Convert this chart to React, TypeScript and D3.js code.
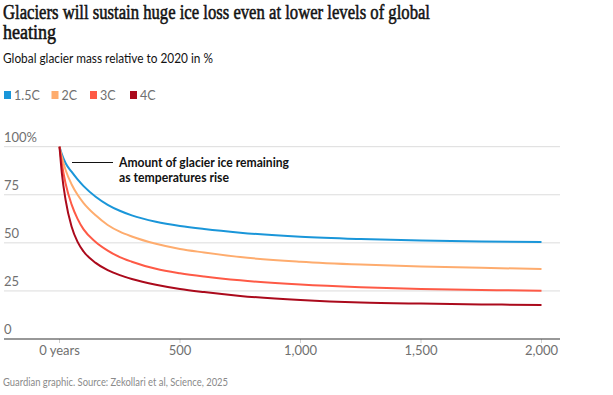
import React from "react";
import * as d3 from "d3";

const years = [0, 10, 25, 50, 75, 100, 150, 200, 250, 300, 400, 500, 600, 750, 1000, 1250, 1500, 1750, 2000];
const s15 = [100, 96, 91.5, 87, 83, 79.5, 74, 69.8, 66.7, 64.3, 61, 58.8, 57.2, 55.3, 53.2, 52, 51.2, 50.7, 50.4];
const s2 = [100, 94.5, 88, 80.5, 75, 70.7, 64.3, 59.3, 55.8, 53.3, 49.5, 46.8, 45, 42.6, 40.2, 38.7, 37.7, 37, 36.4];
const s3 = [100, 91, 81, 70, 62.5, 57, 50.5, 46, 42.6, 40.2, 36.5, 34.2, 32.5, 30.5, 28.3, 26.9, 26, 25.5, 25.1];
const s4 = [100, 86, 72.5, 58.5, 50.5, 45.5, 39.6, 35.8, 33.2, 31.2, 28.2, 26, 24.4, 22.4, 20.3, 19, 18.4, 18, 17.7];

const seriesNames = ["1.5C", "2C", "3C", "4C"];
const seriesValues = [s15, s2, s3, s4];
const seriesColors = ["#1a96d9", "#feac6e", "#fe5a46", "#ab0a1c"];
const legendX = [4, 51.5, 90, 130];

const yTicks = [0, 25, 50, 75, 100];
const yTickLabels = ["0", "25", "50", "75", "100%"];
const xTicks = [0, 500, 1000, 1500, 2000];
const xTickLabels = ["0 years", "500", "1,000", "1,500", "2,000"];

const title1 = "Glaciers will sustain huge ice loss even at lower levels of global";
const title2 = "heating";
const subtitle = "Global glacier mass relative to 2020 in %";
const annot1 = "Amount of glacier ice remaining";
const annot2 = "as temperatures rise";
const source = "Guardian graphic. Source: Zekollari et al, Science, 2025";

const sans = "Lato, 'Noto Sans', sans-serif";
const serif = "'Liberation Serif', serif";

export default function App() {
  const x = d3.scaleLinear().domain([0, 2000]).range([59.5, 541.5]);
  const y = d3.scaleLinear().domain([0, 100]).range([339, 146.7]);
  const line = d3
    .line<number>()
    .x((_, i) => x(years[i]))
    .y((d) => y(d))
    .curve(d3.curveMonotoneX);

  return (
    <svg
      width={613}
      height={395}
      style={{ position: "absolute", left: 0, top: 0, background: "#fff" }}
    >
      <text x={3} y={18.5} fontFamily={serif} fontSize={20} fontWeight={400} fill="#121212" stroke="#121212" strokeWidth={0.55} textLength={427} lengthAdjust="spacingAndGlyphs">
        {title1}
      </text>
      <text x={3} y={38.5} fontFamily={serif} fontSize={20} fontWeight={400} fill="#121212" stroke="#121212" strokeWidth={0.55} textLength={53} lengthAdjust="spacingAndGlyphs">
        {title2}
      </text>
      <text x={3} y={63} fontFamily={sans} fontSize={14} fill="#121212" textLength={210} lengthAdjust="spacingAndGlyphs">
        {subtitle}
      </text>

      {seriesNames.map((n, i) => (
        <g key={n}>
          <rect x={legendX[i]} y={91} width={7} height={8} fill={seriesColors[i]} />
          <text x={legendX[i] + 10} y={99.5} fontFamily={sans} fontSize={12.5} fill="#707070">
            {n}
          </text>
        </g>
      ))}

      {yTicks.map((t, i) => (
        <g key={t}>
          {t > 0 && <line x1={4} x2={560} y1={y(t)} y2={y(t)} stroke="#dcdcdc" strokeWidth={1} />}
          <text x={4} y={y(t) - 5} fontFamily={sans} fontSize={13} fill="#707070">
            {yTickLabels[i]}
          </text>
        </g>
      ))}

      {xTicks.map((t, i) => (
        <g key={t}>
          <line x1={x(t)} x2={x(t)} y1={339} y2={343} stroke="#cfcfcf" strokeWidth={1} />
          <text x={x(t)} y={355} textAnchor="middle" fontFamily={sans} fontSize={13} fill="#707070">
            {xTickLabels[i]}
          </text>
        </g>
      ))}
      <line x1={4} x2={560} y1={339} y2={339} stroke="#333" strokeWidth={1.2} />

      {seriesValues.map((vals, i) => (
        <path key={i} d={line(vals) || ""} fill="none" stroke={seriesColors[i]} strokeWidth={2} />
      ))}

      <line x1={72} x2={113} y1={162.5} y2={162.5} stroke="#121212" strokeWidth={1} />
      <text x={119} y={166.7} fontFamily={sans} fontSize={12.5} fontWeight={700} fill="#121212" textLength={170} lengthAdjust="spacingAndGlyphs">
        {annot1}
      </text>
      <text x={119} y={181.5} fontFamily={sans} fontSize={12.5} fontWeight={700} fill="#121212" textLength={110} lengthAdjust="spacingAndGlyphs">
        {annot2}
      </text>

      <text x={3} y={386} fontFamily={sans} fontSize={12} fill="#8a8a8a" textLength={225} lengthAdjust="spacingAndGlyphs">
        {source}
      </text>
    </svg>
  );
}
